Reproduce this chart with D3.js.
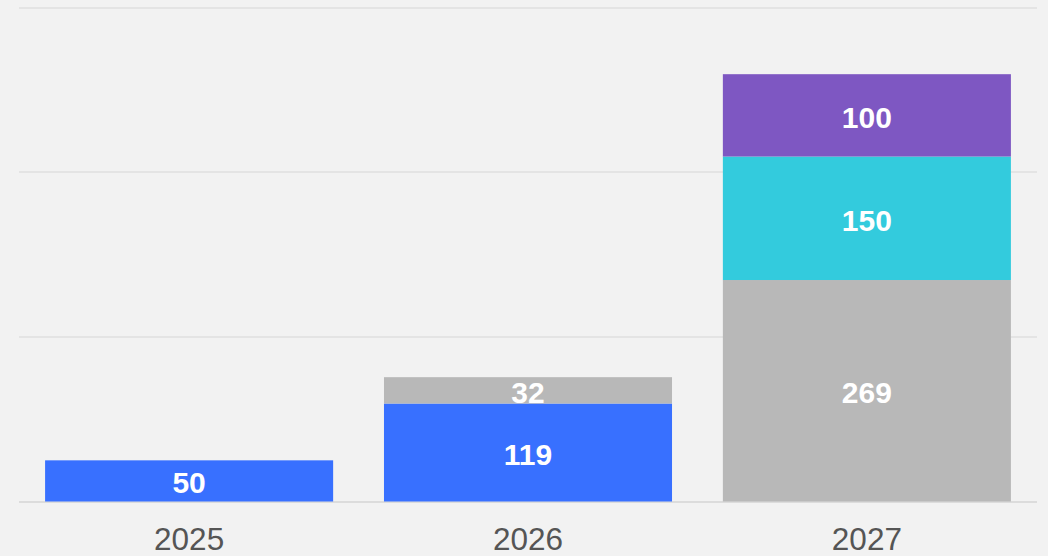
<!DOCTYPE html>
<html>
<head>
<meta charset="utf-8">
<script src="https://cdn.jsdelivr.net/npm/d3@7"></script>
<style>
  html, body { margin: 0; padding: 0; background: #f2f2f2; }
  svg { display: block; font-family: "Liberation Sans", Arial, sans-serif; }
</style>
</head>
<body>
<svg id="chart" width="1048" height="556"></svg>
<script>
// Years on the x axis
const years = ["2025", "2026", "2027"];
// Stacked series, bottom to top
const seriesNames = ["A", "B", "C", "D"];
const seriesA = [50, 119, 0];
const seriesB = [0, 32, 269];
const seriesC = [0, 0, 150];
const seriesD = [0, 0, 100];
const seriesColors = ["#3870ff", "#b8b8b8", "#33cbdd", "#7e57c2"];
const yTicks = [0, 200, 400, 600];

const rows = years.map((y, i) => ({
  year: y, A: seriesA[i], B: seriesB[i], C: seriesC[i], D: seriesD[i]
}));

const svg = d3.select("#chart");
const margin = { left: 19, right: 11, top: 7.5, bottom: 54.5 };
const W = 1048, H = 556;

const x = d3.scaleBand()
  .domain(years)
  .range([margin.left, W - margin.right])
  .paddingInner(0.15)
  .paddingOuter(0.077);

const y = d3.scaleLinear()
  .domain([0, 600])
  .range([H - margin.bottom, margin.top]);

// Horizontal gridlines
svg.append("g").selectAll("line")
  .data(yTicks)
  .join("line")
  .attr("x1", margin.left)
  .attr("x2", W - margin.right)
  .attr("y1", d => Math.round(y(d)))
  .attr("y2", d => Math.round(y(d)))
  .attr("stroke", d => d === 0 ? "#dcdcdc" : "#e4e4e4")
  .attr("stroke-width", 2);

const stack = d3.stack().keys(seriesNames);
const layers = stack(rows);

const g = svg.append("g");
layers.forEach((layer, li) => {
  layer.forEach((seg, i) => {
    const v = seg[1] - seg[0];
    if (v <= 0) return;
    const yr = years[i];
    g.append("rect")
      .attr("x", x(yr))
      .attr("width", x.bandwidth())
      .attr("y", y(seg[1]))
      .attr("height", y(seg[0]) - y(seg[1]))
      .attr("fill", seriesColors[li]);
    g.append("text")
      .attr("x", x(yr) + x.bandwidth() / 2)
      .attr("y", (y(seg[0]) + y(seg[1])) / 2 + 2)
      .attr("text-anchor", "middle")
      .attr("dominant-baseline", "central")
      .attr("fill", "#ffffff")
      .attr("font-weight", "bold")
      .attr("font-size", 30)
      .text(v);
  });
});

// X axis labels
const xAxis = d3.axisBottom(x).tickSize(0).tickPadding(0);
const ax = svg.append("g")
  .attr("transform", `translate(0,${H - margin.bottom})`)
  .call(xAxis);
ax.select(".domain").remove();
ax.selectAll("text")
  .attr("dy", null)
  .attr("y", 48.5)
  .attr("fill", "#555555")
  .attr("font-size", 31.5)
  .attr("font-family", "Liberation Sans, Arial, sans-serif");
</script>
</body>
</html>
